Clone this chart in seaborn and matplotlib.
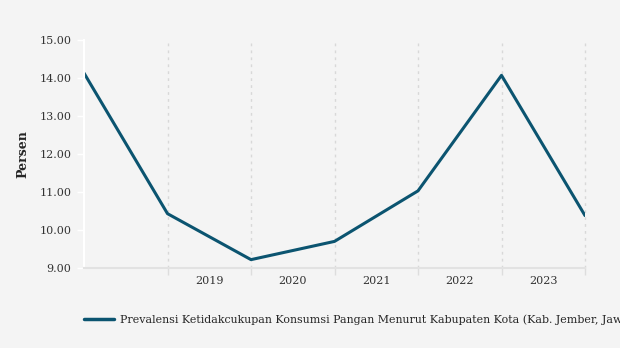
import matplotlib
matplotlib.use("Agg")
import matplotlib.pyplot as plt
import seaborn as sns
import pandas as pd
import numpy as np

positions = [0, 1, 2, 3, 4, 5, 6]
values = [14.13, 10.43, 9.22, 9.70, 11.03, 14.07, 10.38]
year_labels = ["2019", "2020", "2021", "2022", "2023"]
series_name = "Prevalensi Ketidakcukupan Konsumsi Pangan Menurut Kabupaten Kota (Kab. Jember, Jawa Timur)"

df = pd.DataFrame({"x": positions, "y": values, "series": series_name})

sns.set_theme(style="white")
plt.rcParams["font.family"] = ["DejaVu Serif"]
bg = "#f4f4f4"
fig = plt.figure(figsize=(6.2, 3.48), dpi=100, facecolor=bg)
ax = fig.add_axes([84/620, 1-268/348, (585-84)/620, (268-40)/348])
ax.set_facecolor(bg)

sns.lineplot(data=df, x="x", y="y", hue="series", palette=["#0b5470"], linewidth=2.2, ax=ax, legend=True)

ax.set_xlim(0, 6)
ax.set_ylim(9, 15)
ax.set_yticks(np.arange(9, 15.01, 1))
ax.set_yticklabels([f"{v:.2f}" for v in np.arange(9, 15.01, 1)], fontsize=8, color="#333333")
ax.set_xticks([1, 2, 3, 4, 5, 6])
ax.set_xticklabels([])
ax.set_xticks([1.5, 2.5, 3.5, 4.5, 5.5], minor=True)
ax.set_xticklabels(year_labels, minor=True, fontsize=8, color="#333333")
ax.tick_params(axis="x", which="major", length=5, color="#dddddd", width=1, direction="out", bottom=True)
ax.tick_params(axis="x", which="minor", length=0, pad=6)
ax.tick_params(axis="y", length=5, color="white", width=1, left=True, pad=4)
ax.xaxis.grid(True, which="major", linestyle=(0, (2, 3)), color="#d8d8d8", linewidth=1)
for gl in ax.get_xgridlines():
    gl.set_clip_on(False)
ax.yaxis.grid(False)
ax.set_xlabel("")
ax.set_ylabel("Persen", fontsize=9, fontweight="bold", labelpad=7)

for s in ["top", "right"]:
    ax.spines[s].set_visible(False)
ax.spines["left"].set_color("white")
ax.spines["left"].set_linewidth(1.5)
ax.spines["bottom"].set_color("#e2e2e2")
ax.spines["bottom"].set_linewidth(1.5)

leg = ax.legend(loc="center left", bbox_to_anchor=(74/620, 1-320/348), bbox_transform=fig.transFigure,
                frameon=False, fontsize=7.9, handlelength=2.7, handletextpad=0.6)
for line in leg.get_lines():
    line.set_linewidth(2.5)

fig.savefig("out.png", dpi=100, facecolor=bg)
